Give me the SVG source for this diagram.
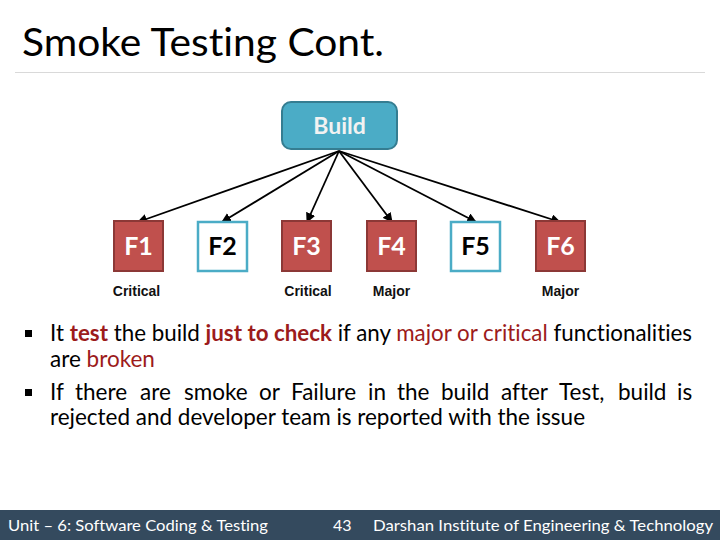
<svg xmlns="http://www.w3.org/2000/svg" width="720" height="540" viewBox="0 0 720 540">
<style>
text{font-variant-ligatures:none}
.title{font-family:Lato,"Liberation Sans",sans-serif;font-size:38px;fill:#000}
.body{font-family:Lato,"Liberation Sans",sans-serif;font-size:22.5px;fill:#000}
.red{fill:#9c1b1b}
.b{font-weight:bold}
.redbox{fill:#c0504d;stroke:#8c3836;stroke-width:2}
.bluebox{fill:#fff;stroke:#4bacc6;stroke-width:2.5}
.flab{font-family:Lato,"Liberation Sans",sans-serif;font-size:25px;font-weight:bold;text-anchor:middle}
.tag{font-family:"Liberation Sans",Arial,sans-serif;font-size:14px;font-weight:bold;fill:#111;text-anchor:middle}
.foot{font-family:Lato,"Liberation Sans",sans-serif;font-size:16px;fill:#fff}
.conn line{stroke:#000;stroke-width:1.8;marker-end:url(#arr)}
</style>
<defs>
<marker id="arr" viewBox="0 0 10 10" refX="9" refY="5" markerWidth="5.5" markerHeight="5.5" orient="auto" markerUnits="strokeWidth">
<path d="M0,0 L10,5 L0,10 z" fill="#000"/>
</marker>
</defs>
<rect width="720" height="540" fill="#fff"/>
<text class="title" x="22" y="56" textLength="362" lengthAdjust="spacingAndGlyphs">Smoke Testing Cont.</text>
<line x1="15" y1="72.5" x2="705" y2="72.5" stroke="#d9d9d9" stroke-width="1.2"/>

<g id="connectors" class="conn">
<line x1="339" y1="151" x2="138" y2="222"/>
<line x1="339" y1="151" x2="222" y2="222"/>
<line x1="339" y1="151" x2="307" y2="222"/>
<line x1="339" y1="151" x2="392" y2="222"/>
<line x1="339" y1="151" x2="476" y2="222"/>
<line x1="339" y1="151" x2="560" y2="222"/>
</g>

<g id="build">
<rect x="282" y="102" width="115" height="47" rx="9" fill="#4bacc6" stroke="#357d91" stroke-width="2"/>
<text x="339.5" y="134" font-family="Lato,'Liberation Sans',sans-serif" font-size="23" font-weight="bold" fill="#f2f2f2" text-anchor="middle">Build</text>
</g>

<g id="F1"><rect class="redbox" x="114" y="221" width="49" height="50"/><text class="flab" x="138.5" y="255" fill="#fff">F1</text></g>
<g id="F2"><rect class="bluebox" x="198" y="222" width="49" height="49"/><text class="flab" x="222.5" y="255" fill="#000">F2</text></g>
<g id="F3"><rect class="redbox" x="282" y="221" width="49" height="50"/><text class="flab" x="306.5" y="255" fill="#fff">F3</text></g>
<g id="F4"><rect class="redbox" x="367" y="221" width="49" height="50"/><text class="flab" x="391.5" y="255" fill="#fff">F4</text></g>
<g id="F5"><rect class="bluebox" x="451" y="222" width="49" height="49"/><text class="flab" x="475.5" y="255" fill="#000">F5</text></g>
<g id="F6"><rect class="redbox" x="536" y="221" width="49" height="50"/><text class="flab" x="560.5" y="255" fill="#fff">F6</text></g>

<g id="tags">
<text class="tag" x="136.5" y="296">Critical</text>
<text class="tag" x="308" y="296">Critical</text>
<text class="tag" x="391.5" y="296">Major</text>
<text class="tag" x="560.5" y="296">Major</text>
</g>

<g id="bullets">
<rect x="25" y="330" width="7" height="7" fill="#000"/>
<text class="body" x="50" y="341" textLength="642" lengthAdjust="spacingAndGlyphs">It <tspan class="red b">test</tspan> the build <tspan class="red b">just to check</tspan> if any <tspan class="red">major or critical</tspan> functionalities</text>
<text class="body" x="50" y="367">are <tspan class="red">broken</tspan></text>
<rect x="25" y="389" width="7" height="7" fill="#000"/>
<text class="body" y="400"><tspan x="50">If</tspan><tspan x="75">there</tspan><tspan x="140">are</tspan><tspan x="184">smoke</tspan><tspan x="259">or</tspan><tspan x="291">Failure</tspan><tspan x="368">in</tspan><tspan x="397">the</tspan><tspan x="441">build</tspan><tspan x="501">after</tspan><tspan x="559">Test,</tspan><tspan x="618">build</tspan><tspan x="677">is</tspan></text>
<text class="body" x="50" y="425" textLength="535" lengthAdjust="spacingAndGlyphs">rejected and developer team is reported with the issue</text>
</g>

<g id="footer">
<rect x="0" y="510" width="720" height="30" fill="#344a5e"/>
<text class="foot" x="8" y="531" textLength="260" lengthAdjust="spacingAndGlyphs">Unit – 6: Software Coding &amp; Testing</text>
<text class="foot" x="333" y="531">43</text>
<text class="foot" x="373" y="531" textLength="340" lengthAdjust="spacingAndGlyphs">Darshan Institute of Engineering &amp; Technology</text>
</g>
</svg>
